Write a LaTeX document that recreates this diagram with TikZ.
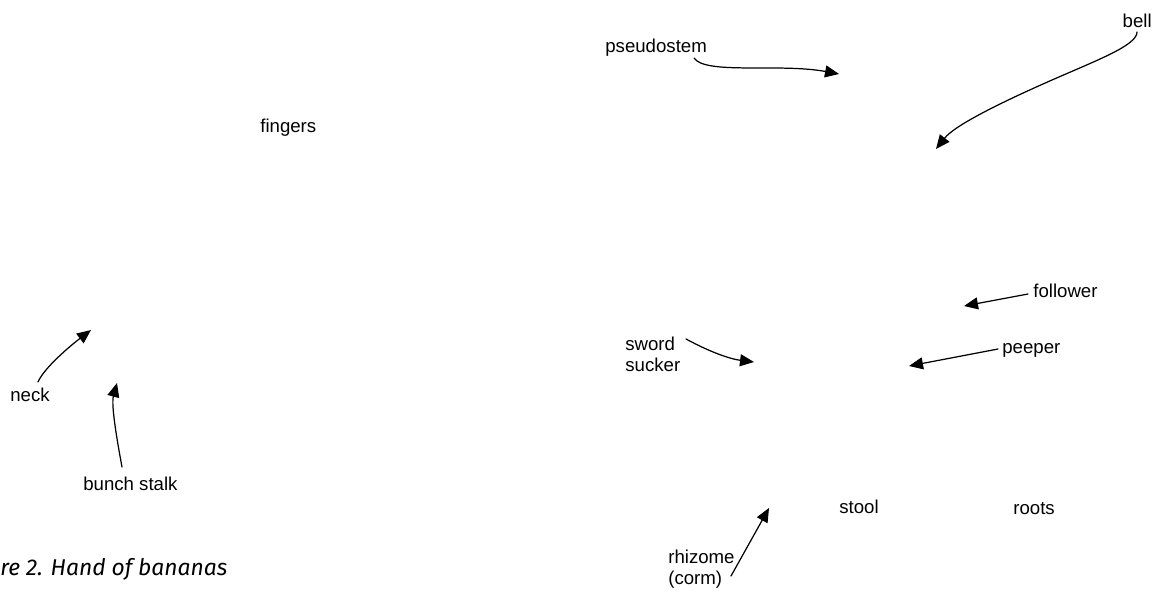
\documentclass[tikz,border=0pt]{standalone}
\usepackage{fontspec}
\setmainfont{Liberation Sans}
\newfontfamily\capfont{Fira Sans}
\usetikzlibrary{arrows.meta}
\begin{document}
\begin{tikzpicture}[x=0.02cm,y=-0.02cm,
  lbl/.style={inner sep=0pt, font=\fontsize{10.6}{12}\selectfont},
  ptr/.style={line width=0.7pt, line cap=round, -{Triangle[length=2.8mm,width=2.4mm]}}]
\useasboundingbox (0,0) rectangle (1158,592);

% labels
\node[lbl, anchor=base west] (ps) at (605,52) {pseudostem};
\node[lbl, anchor=base east] (bell) at (1152,27) {bell};
\node[lbl, anchor=base west] (fing) at (260,132) {fingers};
\node[lbl, anchor=base west] (neck) at (10,401) {neck};
\node[lbl, anchor=base west] (bunch) at (83,490) {bunch stalk};
\node[lbl, anchor=north west, align=left] (sword) at (625,337) {sword\\sucker};
\node[lbl, anchor=base west] (foll) at (1033,297) {follower};
\node[lbl, anchor=base west] (peep) at (1002,353) {peeper};
\node[lbl, anchor=base west] (stool) at (839,513) {stool};
\node[lbl, anchor=base west] (roots) at (1013,514) {roots};
\node[lbl, anchor=north west, align=left] (rhiz) at (668,550) {rhizome\\(corm)};
\node[inner sep=0pt, anchor=base west, font=\capfont\itshape\fontsize{13}{15}\selectfont] (cap) at (0,575) {re 2. Hand of bananas};

% arrow ends
\coordinate (ps-s) at (694,58);   \coordinate (ps-t) at (839,74);
\coordinate (bell-s) at (1137,32); \coordinate (bell-m) at (1052,80); \coordinate (bell-t) at (936,149);
\coordinate (neck-s) at (38,382); \coordinate (neck-t) at (91,330);
\coordinate (bunch-s) at (122,467); \coordinate (bunch-t) at (117,383);
\coordinate (sw-s) at (686,339); \coordinate (sw-t) at (754,362);
\coordinate (fo-s) at (1028,294); \coordinate (fo-t) at (964,306);
\coordinate (pe-s) at (998,349); \coordinate (pe-t) at (909,366);
\coordinate (rh-s) at (731,576); \coordinate (rh-t) at (769,508);

% arrows
\draw[ptr] (ps-s) .. controls (705,75) and (780,63) .. (ps-t);
\draw[ptr] (bell-s) .. controls (1137,45) and (1100,59) .. (bell-m) .. controls (1002,102) and (955,125) .. (bell-t);
\draw[ptr] (neck-s) .. controls (44,368) and (70,346) .. (neck-t);
\draw[ptr] (bunch-s) .. controls (117,440) and (111,405) .. (bunch-t);
\draw[ptr] (sw-s) .. controls (710,352) and (730,359) .. (sw-t);
\draw[ptr] (fo-s) -- (fo-t);
\draw[ptr] (pe-s) -- (pe-t);
\draw[ptr] (rh-s) -- (rh-t);
\end{tikzpicture}
\end{document}
